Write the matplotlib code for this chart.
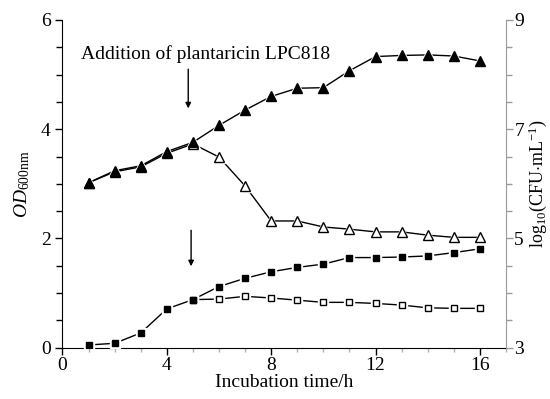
import matplotlib
matplotlib.use('Agg')
from matplotlib import pyplot as plt
from matplotlib.ticker import MultipleLocator, FixedLocator

plt.rcParams['font.family'] = ['Liberation Serif', 'DejaVu Serif']
plt.rcParams['mathtext.fontset'] = 'custom'
plt.rcParams['mathtext.rm'] = 'Liberation Serif'
plt.rcParams['mathtext.it'] = 'Liberation Serif:italic'

# data
hours = [1, 2, 3, 4, 5, 6, 7, 8, 9, 10, 11, 12, 13, 14, 15, 16]
od_control = [0.05, 0.08, 0.27, 0.71, 0.88, 1.12, 1.27, 1.39, 1.47, 1.53, 1.65, 1.65, 1.66, 1.68, 1.74, 1.81]
hours_treated = [5, 6, 7, 8, 9, 10, 11, 12, 13, 14, 15, 16]
od_treated = [0.88, 0.89, 0.94, 0.91, 0.87, 0.83, 0.83, 0.81, 0.78, 0.73, 0.72, 0.72]
cfu_control = [6.02, 6.24, 6.33, 6.59, 6.76, 7.07, 7.35, 7.60, 7.75, 7.76, 8.07, 8.33, 8.35, 8.36, 8.34, 8.25]
cfu_treated = [6.02, 6.22, 6.31, 6.56, 6.73, 6.49, 5.96, 5.32, 5.32, 5.21, 5.17, 5.12, 5.12, 5.06, 5.02, 5.02]
cfu_ticks = [3, 5, 7, 9]

fig = plt.figure(figsize=(5.5, 3.99), dpi=100)
ax = fig.add_subplot(111)
fig.subplots_adjust(left=0.1136, right=0.92, top=0.95, bottom=0.1286)
ax2 = ax.twinx()

# lines first, then white halo so the line stops short of each symbol
ax.plot(hours, od_control, color='k', lw=1, zorder=2)
ax.plot(hours_treated, od_treated, color='k', lw=1, zorder=2)
ax2.plot(hours, cfu_control, color='k', lw=1, zorder=2)
ax2.plot(hours, cfu_treated, color='k', lw=1, zorder=2)

ax.plot(hours, od_control, ls='none', marker='s', ms=7.5, color='white', zorder=3)
ax.plot(hours_treated, od_treated, ls='none', marker='s', ms=6.5, color='white', zorder=3)
ax2.plot(hours, cfu_control, ls='none', marker='^', ms=10, color='white', zorder=3)
ax2.plot(hours, cfu_treated, ls='none', marker='^', ms=9, color='white', zorder=3)

ax.plot(hours_treated, od_treated, ls='none', marker='s', ms=4, mfc='white', mec='k', mew=1, zorder=4)
ax.plot(hours, od_control, ls='none', marker='s', ms=5, color='k', zorder=5)
ax2.plot(hours, cfu_treated, ls='none', marker='^', ms=6.5, mfc='white', mec='k', mew=1, zorder=4)
ax2.plot(hours, cfu_control, ls='none', marker='^', ms=7, color='k', zorder=5)

ax.set_xlim(0, 17)
ax.set_ylim(0, 6)
ax2.set_ylim(3, 9)
ax.xaxis.set_major_locator(MultipleLocator(4))
ax.xaxis.set_minor_locator(MultipleLocator(1))
ax.yaxis.set_major_locator(MultipleLocator(2))
ax.yaxis.set_minor_locator(MultipleLocator(0.5))
ax2.yaxis.set_major_locator(FixedLocator(cfu_ticks))
ax2.yaxis.set_minor_locator(MultipleLocator(0.5))

ax.spines['top'].set_visible(False)
ax2.spines['top'].set_visible(False)
ax.spines['right'].set_visible(False)
ax2.spines['left'].set_visible(False)
ax2.spines['bottom'].set_visible(False)
ax2.spines['right'].set_color('#9a9a9a')

ax.tick_params(axis='both', which='major', direction='out', length=5, width=1, labelsize=14)
ax.tick_params(axis='y', which='minor', direction='out', length=4, width=1)
ax.tick_params(axis='x', which='minor', direction='out', length=3, width=1, color='#b0b0b0')
ax.tick_params(axis='x', pad=2)
ax2.tick_params(axis='y', which='major', direction='out', length=5, width=1, color='#9a9a9a', labelsize=14, pad=1)
ax2.tick_params(axis='y', which='minor', direction='out', length=4, width=1, color='#9a9a9a')

ax.set_xlabel('Incubation time/h', fontsize=14, labelpad=0)
ax.set_ylabel(r'$\mathit{OD}_{\mathrm{600nm}}$', fontsize=14, labelpad=6)
ax2.set_ylabel(r'log$_{10}$(CFU$\cdot$mL$^{-1}$)', fontsize=13, labelpad=2)

# addition arrows
ax.annotate('', xy=(4.82, 4.33), xytext=(4.82, 5.15),
            arrowprops=dict(arrowstyle='-|>', color='k', lw=1, mutation_scale=8))
ax.annotate('', xy=(4.93, 1.44), xytext=(4.93, 2.2),
            arrowprops=dict(arrowstyle='-|>', color='k', lw=1, mutation_scale=8))
ax.text(5.49, 5.29, 'Addition of plantaricin LPC818', fontsize=14, ha='center', va='baseline')

plt.savefig('out.png', dpi=100)
